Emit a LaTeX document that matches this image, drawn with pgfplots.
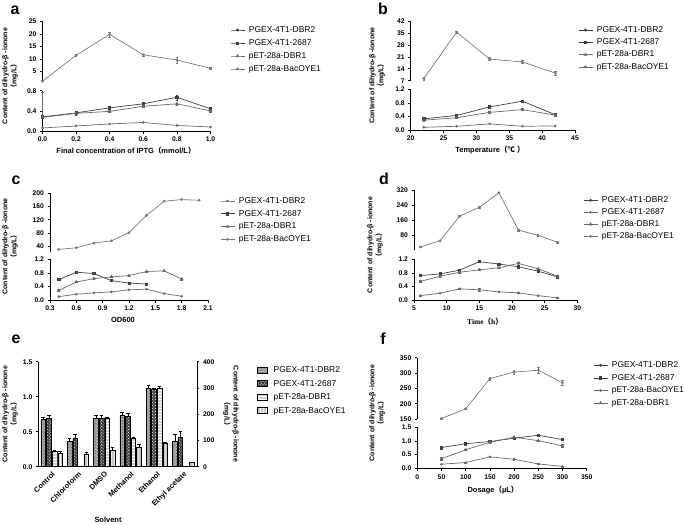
\documentclass[border=0pt]{standalone}
\usepackage{pgfplots}
\pgfplotsset{compat=1.18}
\usetikzlibrary{patterns}
\usepackage{fontspec}
\setmainfont{Liberation Sans}
\newfontfamily\cjk{Noto Sans CJK SC}
\newfontfamily\tnr{Liberation Serif}
\newcommand\lp{{\cjk （}}
\newcommand\rp{{\cjk ）}}
\definecolor{topc}{HTML}{7A7A7A}
\definecolor{lowc}{HTML}{404040}
\definecolor{midc}{HTML}{6A6A6A}
\pgfplotsset{
 base/.style={scale only axis, clip=false,
   axis line style={black,line width=0.7pt},
   tick style={black,line width=0.6pt}, tick align=outside,
   major tick length=2.5bp,
   ticklabel style={font=\bfseries\fontsize{6.8}{7}\selectfont},
   /pgf/number format/assume math mode=true,
   every axis plot/.append style={line width=0.7pt},
   error bars/error bar style={line width=0.45pt},
   error bars/error mark options={rotate=90, mark size=1.3bp, line width=0.45pt}},
 up/.style={base, axis x line=none, axis y line*=left, xtick=\empty},
 low/.style={base, axis x line*=bottom, axis y line*=left},
 onedec/.style={yticklabel style={/pgf/number format/.cd, fixed, fixed zerofill, precision=1}},
 onedecx/.style={xticklabel style={/pgf/number format/.cd, fixed, fixed zerofill, precision=1}},
 leg/.style={legend cell align=left,
   legend style={draw=none, fill=none, inner sep=0pt, anchor=north west,
     font=\fontsize{8.5}{9}\selectfont, row sep=#1,
     nodes={inner sep=0pt, text height=6.2bp, text depth=1.8bp}},
   legend image code/.code={\draw[mark repeat=2,mark phase=2,##1] plot coordinates {(0bp,0bp) (7bp,0bp) (14bp,0bp)};\path (18bp,0bp);}},
 sA/.style={color=topc, mark=*, mark size=1bp, mark options={solid}},
 sB/.style={color=lowc, mark=square*, mark size=1.1bp},
 sC/.style={color=midc, mark=triangle*, mark size=1.4bp},
 sD/.style={color=midc, mark=*, mark size=0.9bp},
 eb1/.style={draw=black, line width=0.5pt, fill=gray!65, postaction={pattern=crosshatch dots, pattern color=black!70}},
 eb2/.style={draw=black, line width=0.5pt, fill=black!75, postaction={pattern=crosshatch dots, pattern color=white}},
 eb3/.style={draw=black, line width=0.5pt, fill=gray!35, postaction={pattern=horizontal lines, pattern color=white}},
 eb4/.style={draw=black, line width=0.5pt, fill=gray!45, postaction={pattern=vertical lines, pattern color=white}},
}
\tikzset{lab/.style={font=\bfseries\fontsize{7}{9}\selectfont, align=center, inner sep=0pt},
  xlab/.style={font=\bfseries\fontsize{7.5}{9}\selectfont, inner sep=0pt},
  letter/.style={font=\bfseries\fontsize{16}{16}\selectfont, inner sep=0pt}}
\begin{document}
\begin{tikzpicture}
\useasboundingbox (0,0) rectangle (685bp,-525bp);
\fill[white] (0,0) rectangle (685bp,-525bp);
% ---------------- panel a ----------------
\begin{axis}[up, at={(42.5bp,-81.7bp)}, anchor=south west, width=168bp, height=60.4bp,
  xmin=0, xmax=1, ymin=1, ymax=25, ytick={5,10,15,20,25},
  leg=5bp, legend style={at={(1.116,0.9255)}}]
\addlegendimage{sB, color=lowc, mark=*}\addlegendentry{PGEX-4T1-DBR2}
\addlegendimage{sB}\addlegendentry{PGEX-4T1-2687}
\addlegendimage{sC}\addlegendentry{pET-28a-DBR1}
\addlegendimage{sD}\addlegendentry{pET-28a-BacOYE1}
\addplot[sA, forget plot, error bars/.cd, y dir=both, y explicit] coordinates {
 (0,1.2) +- (0,0.2) (0.2,11.5) +- (0,0.4) (0.4,19.8) +- (0,1.0) (0.6,11.7) +- (0,0.4) (0.8,9.6) +- (0,1.2) (1.0,6.3) +- (0,0.3)};
\end{axis}
\begin{axis}[low, onedec, onedecx, at={(42.5bp,-131bp)}, anchor=south west, width=168bp, height=40.3bp,
  xmin=0, xmax=1, ymin=0, ymax=0.8, ytick={0,0.4,0.8}, xtick={0,0.2,...,1.0}]
\addplot[sB, error bars/.cd, y dir=both, y explicit] coordinates {
 (0,0.28) +- (0,0.02) (0.2,0.36) +- (0,0.04) (0.4,0.46) +- (0,0.03) (0.6,0.54) +- (0,0.02) (0.8,0.67) +- (0,0.05) (1.0,0.44) +- (0,0.02)};
\addplot[sC, error bars/.cd, y dir=both, y explicit] coordinates {
 (0,0.27) += (0,0.5) -= (0,0.02) (0.2,0.35) +- (0,0.02) (0.4,0.39) +- (0,0.02) (0.6,0.49) +- (0,0.02) (0.8,0.54) +- (0,0.02) (1.0,0.40) +- (0,0.03)};
\addplot[sD] coordinates {(0,0.06) (0.2,0.10) (0.4,0.14) (0.6,0.17) (0.8,0.11) (1.0,0.08)};
\end{axis}
\node[letter] at (15bp,-10bp) {a};
\node[lab, rotate=90] at (10bp,-76bp) {Content of dihydro-β -ionone\\\lp mg/L\rp};
\node[xlab] at (126bp,-151bp) {Final concentration of IPTG\lp mmol/L\rp};
% ---------------- panel b ----------------
\begin{axis}[up, at={(410.7bp,-80.7bp)}, anchor=south west, width=164.3bp, height=59.7bp,
  xmin=20, xmax=45, ymin=7, ymax=42, ytick={7,14,...,42},
  leg=4.3bp, legend style={at={(1.018,0.92)}}]
\addlegendimage{sB, mark=*}\addlegendentry{PGEX-4T1-DBR2}
\addlegendimage{sB}\addlegendentry{PGEX-4T1-2687}
\addlegendimage{sC}\addlegendentry{pET-28a-DBR1}
\addlegendimage{sD}\addlegendentry{pET-28a-BacOYE1}
\addplot[sA, forget plot, error bars/.cd, y dir=both, y explicit] coordinates {
 (22,8.3) +- (0,0.8) (27,35.5) +- (0,0.8) (32,19.7) +- (0,0.9) (37,18.0) +- (0,1.0) (42,11.5) +- (0,1.3)};
\end{axis}
\begin{axis}[low, onedec, at={(410.7bp,-130bp)}, anchor=south west, width=164.3bp, height=40.7bp,
  xmin=20, xmax=45, ymin=0, ymax=1.2, ytick={0,0.4,0.8,1.2}, xtick={20,25,...,45}]
\addplot[sB, error bars/.cd, y dir=both, y explicit] coordinates {
 (22,0.33) +- (0,0.02) (27,0.43) +- (0,0.02) (32,0.68) +- (0,0.03) (37,0.85) +- (0,0.02) (42,0.45) +- (0,0.03)};
\addplot[sC, error bars/.cd, y dir=both, y explicit] coordinates {
 (22,0.29) +- (0,0.03) (27,0.36) +- (0,0.02) (32,0.52) +- (0,0.03) (37,0.60) +- (0,0.03) (42,0.44) +- (0,0.03)};
\addplot[sD] coordinates {(22,0.08) (27,0.11) (32,0.18) (37,0.11) (42,0.12)};
\end{axis}
\node[letter] at (383bp,-9bp) {b};
\node[lab, rotate=90] at (377bp,-75.5bp) {Content of dihydro-β -ionone\\\lp mg/L\rp};
\node[xlab] at (490bp,-150bp) {Temperature\lp{\cjk ℃} \rp};
% ---------------- panel c ----------------
\begin{axis}[up, at={(50bp,-251.7bp)}, anchor=south west, width=158bp, height=58.4bp,
  xmin=0.3, xmax=2.1, ymin=23, ymax=200, ytick={40,80,...,200},
  leg=4.8bp, legend style={at={(1.076,0.94)}}]
\addlegendimage{sD, mark=*}\addlegendentry{PGEX-4T1-DBR2}
\addlegendimage{sB}\addlegendentry{PGEX-4T1-2687}
\addlegendimage{sC}\addlegendentry{pET-28a-DBR1}
\addlegendimage{sA}\addlegendentry{pET-28a-BacOYE1}
\addplot[sA, forget plot] coordinates {
 (0.4,30) (0.6,35) (0.8,49) (1.0,56) (1.2,81) (1.4,133) (1.6,176) (1.8,181) (2.0,179)};
\end{axis}
\begin{axis}[low, onedec, onedecx, at={(50bp,-300bp)}, anchor=south west, width=158bp, height=40.7bp,
  xmin=0.3, xmax=2.1, ymin=0, ymax=1.2, ytick={0,0.4,0.8,1.2}, xtick={0.3,0.6,...,2.1}]
\addplot[sB, error bars/.cd, y dir=both, y explicit] coordinates {
 (0.4,0.60) +- (0,0.03) (0.6,0.82) +- (0,0.04) (0.8,0.78) +- (0,0.03) (1.0,0.57) +- (0,0.02) (1.2,0.50) +- (0,0.02) (1.4,0.47) +- (0,0.03)};
\addplot[sC, error bars/.cd, y dir=both, y explicit] coordinates {
 (0.4,0.28) +- (0,0.03) (0.6,0.53) +- (0,0.02) (0.8,0.63) +- (0,0.02) (1.0,0.68) +- (0,0.02) (1.2,0.72) +- (0,0.02) (1.4,0.84) +- (0,0.02) (1.6,0.86) +- (0,0.02) (1.8,0.62) +- (0,0.03)};
\addplot[sD] coordinates {(0.4,0.10) (0.6,0.17) (0.8,0.21) (1.0,0.24) (1.2,0.30) (1.4,0.32) (1.6,0.19) (1.8,0.11)};
\end{axis}
\node[letter] at (16bp,-180bp) {c};
\node[lab, rotate=90] at (10bp,-246.5bp) {Content of dihydro-β -ionone\\\lp mg/L\rp};
\node[xlab] at (123bp,-320bp) {OD600};
% ---------------- panel d ----------------
\begin{axis}[up, at={(414bp,-250bp)}, anchor=south west, width=163.3bp, height=60bp,
  xmin=5, xmax=30, ymin=0, ymax=320, ytick={80,160,240,320},
  leg=4bp, legend style={at={(1.035,0.898)}}]
\addlegendimage{sB, mark=*}\addlegendentry{PGEX-4T1-DBR2}
\addlegendimage{sD}\addlegendentry{PGEX-4T1-2687}
\addlegendimage{sC}\addlegendentry{pET-28a-DBR1}
\addlegendimage{sA}\addlegendentry{pET-28a-BacOYE1}
\addplot[sA, forget plot, error bars/.cd, y dir=both, y explicit] coordinates {
 (6,16) +- (0,3) (9,50) +- (0,3) (12,181) +- (0,3) (15,228) +- (0,4) (18,305) +- (0,4) (21,106) +- (0,4) (24,78) +- (0,4) (27,41) +- (0,4)};
\end{axis}
\begin{axis}[low, onedec, at={(414bp,-300bp)}, anchor=south west, width=163.3bp, height=40.7bp,
  xmin=5, xmax=30, ymin=0, ymax=1.2, ytick={0,0.4,0.8,1.2}, xtick={5,10,...,30}]
\addplot[sB, error bars/.cd, y dir=both, y explicit] coordinates {
 (6,0.72) +- (0,0.02) (9,0.77) +- (0,0.02) (12,0.88) +- (0,0.02) (15,1.13) +- (0,0.02) (18,1.06) +- (0,0.03) (21,0.98) +- (0,0.03) (24,0.85) +- (0,0.02) (27,0.68) +- (0,0.02)};
\addplot[sC, error bars/.cd, y dir=both, y explicit] coordinates {
 (6,0.55) +- (0,0.04) (9,0.70) +- (0,0.02) (12,0.82) +- (0,0.02) (15,0.89) +- (0,0.02) (18,0.95) +- (0,0.02) (21,1.08) +- (0,0.04) (24,0.92) +- (0,0.03) (27,0.70) +- (0,0.02)};
\addplot[sD, error bars/.cd, y dir=both, y explicit] coordinates {
 (6,0.13) +- (0,0.01) (9,0.20) +- (0,0.01) (12,0.33) +- (0,0.01) (15,0.30) +- (0,0.04) (18,0.24) +- (0,0.01) (21,0.21) +- (0,0.02) (24,0.13) +- (0,0.01) (27,0.06) +- (0,0.01)};
\end{axis}
\node[letter] at (384bp,-179bp) {d};
\node[lab, rotate=90] at (375bp,-245bp) {Content of dihydro-β -ionone\\\lp mg/L\rp};
\node[font=\tnr\bfseries\fontsize{7.5}{9}\selectfont, inner sep=0pt] at (485bp,-321.5bp) {Time\lp h\rp};
% ---------------- panel e ----------------
\begin{axis}[base, axis x line*=bottom, axis y line*=left, onedec,
  at={(38.3bp,-466.7bp)}, anchor=south west, width=158.7bp, height=105bp,
  ybar=1bp, bar width=4.6bp, xmin=0.492, xmax=6.527, ymin=0, ymax=1.5, ytick={0,0.5,1.0,1.5},
  xtick={1,...,6}, xticklabels={Control,Chloroform,DMSO,Methanol,Ethanol,Ethyl acetate},
  xticklabel style={rotate=45, anchor=north east, inner sep=1bp, font=\bfseries\fontsize{7.4}{8}\selectfont},
  major x tick style={draw=none},
  legend cell align=left,
  legend style={draw=none, fill=none, inner sep=0pt, anchor=north west, at={(1.376,0.958)},
     font=\fontsize{8.5}{9}\selectfont, row sep=5.5bp,
     nodes={inner sep=0pt, text height=6.2bp, text depth=1.8bp}},
  legend image code/.code={\draw[#1] (0bp,-2.8bp) rectangle (10bp,3.2bp);\path (16.3bp,0bp);},
  error bars/error mark options={rotate=90, mark size=1.8bp, line width=0.45pt}]
\addplot[eb1, error bars/.cd, y dir=plus, y explicit] coordinates {
 (1,0.68) +- (0,0.03) (2,0.36) +- (0,0.04) (3,0.69) +- (0,0.04) (4,0.74) +- (0,0.04) (5,1.12) +- (0,0.05) (6,0.36) +- (0,0.10)};
\addlegendentry{PGEX-4T1-DBR2}
\addplot[eb2, error bars/.cd, y dir=plus, y explicit] coordinates {
 (1,0.69) +- (0,0.04) (2,0.40) +- (0,0.07) (3,0.69) +- (0,0.04) (4,0.72) +- (0,0.05) (5,1.10) +- (0,0.02) (6,0.42) +- (0,0.08)};
\addlegendentry{PGEX-4T1-2687}
\addplot[eb3, error bars/.cd, y dir=plus, y explicit] coordinates {
 (1,0.22) +- (0,0.01) (3,0.69) +- (0,0.01) (4,0.41) +- (0,0.01) (5,1.12) +- (0,0.03)};
\addlegendentry{pET-28a-DBR1}
\addplot[eb4, error bars/.cd, y dir=plus, y explicit] coordinates {
 (1,0.19) +- (0,0.03) (2,0.18) +- (0,0.02) (3,0.23) +- (0,0.05) (4,0.28) +- (0,0.04) (5,0.33) +- (0,0.02) (6,0.06) +- (0,0.01)};
\addlegendentry{pET-28a-BacOYE1}
\end{axis}
\begin{axis}[base, axis x line=none, axis y line*=right, xtick=\empty,
  at={(38.3bp,-466.7bp)}, anchor=south west, width=158.7bp, height=105bp,
  xmin=0.492, xmax=6.527, ymin=0, ymax=400, ytick={0,100,...,400}]
\addplot[draw=none, forget plot] coordinates {(1,0)};
\end{axis}
\node[letter] at (16bp,-339bp) {e};
\node[lab, rotate=90] at (10bp,-414bp) {Content of dihydro-β -ionone\\\lp mg/L\rp};
\node[lab, rotate=-90] at (231bp,-414bp) {Content of dihydro-β -ionone\\\lp mg/L\rp};
\node[xlab] at (108bp,-520bp) {Solvent};
% ---------------- panel f ----------------
\begin{axis}[up, at={(417.3bp,-419bp)}, anchor=south west, width=169.4bp, height=61.3bp,
  xmin=0, xmax=350, ymin=150, ymax=350, ytick={150,200,...,350},
  leg=4.6bp, legend style={at={(1.037,0.945)}}]
\addlegendimage{sB, mark=*}\addlegendentry{PGEX-4T1-DBR2}
\addlegendimage{sB}\addlegendentry{PGEX-4T1-2687}
\addlegendimage{sD}\addlegendentry{pET-28a-BacOYE1}
\addlegendimage{sC}\addlegendentry{pET-28a-DBR1}
\addplot[sA, forget plot, error bars/.cd, y dir=both, y explicit] coordinates {
 (50,152) +- (0,2) (100,183) +- (0,2) (150,282) +- (0,4) (200,303) +- (0,6) (250,309) +- (0,9) (300,268) +- (0,8)};
\end{axis}
\begin{axis}[low, onedec, at={(417.3bp,-468.3bp)}, anchor=south west, width=169.4bp, height=41bp,
  xmin=0, xmax=350, ymin=0, ymax=1.5, ytick={0,0.5,1.0,1.5}, xtick={0,50,...,350}]
\addplot[sB, error bars/.cd, y dir=both, y explicit] coordinates {
 (50,0.76) +- (0,0.05) (100,0.90) +- (0,0.05) (150,0.98) +- (0,0.03) (200,1.10) +- (0,0.03) (250,1.21) +- (0,0.02) (300,1.05) +- (0,0.02)};
\addplot[sC, error bars/.cd, y dir=both, y explicit] coordinates {
 (50,0.35) +- (0,0.04) (100,0.68) +- (0,0.03) (150,0.95) +- (0,0.04) (200,1.14) +- (0,0.04) (250,1.01) +- (0,0.02) (300,0.82) +- (0,0.05)};
\addplot[sD, error bars/.cd, y dir=both, y explicit] coordinates {
 (50,0.15) +- (0,0.01) (100,0.21) +- (0,0.01) (150,0.42) +- (0,0.03) (200,0.33) +- (0,0.04) (250,0.16) +- (0,0.02) (300,0.07) +- (0,0.02)};
\end{axis}
\node[letter] at (383bp,-339bp) {f};
\node[lab, rotate=90] at (377bp,-413bp) {Content of dihydro-β -ionone\\\lp mg/L\rp};
\node[xlab] at (493bp,-490bp) {Dosage\lp µL\rp};
\end{tikzpicture}
\end{document}
